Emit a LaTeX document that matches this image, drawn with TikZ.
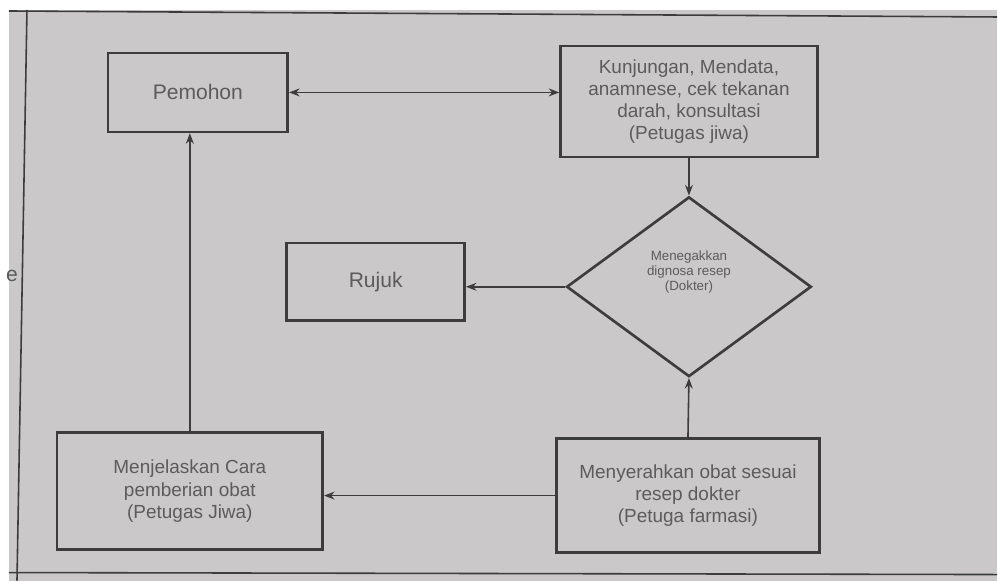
\documentclass[tikz,border=0pt]{standalone}
\usepackage{fontspec}
\setmainfont{Liberation Sans}
\usetikzlibrary{shapes.geometric,arrows.meta}
\definecolor{paper}{RGB}{202,200,200}
\definecolor{ink}{RGB}{60,60,60}
\definecolor{print}{RGB}{92,92,92}

\begin{document}
\begin{tikzpicture}[x=0.02cm,y=-0.02cm]
\tikzstyle{every node}+=[inner sep=0pt, text=print]
\tikzstyle{box}=[draw=ink, line width=1.5pt, rectangle, align=center, font=\fontsize{10.8}{12.6}\selectfont]
\tikzstyle{flow}=[draw=ink, line width=0.9pt, -{Stealth[length=6pt,width=4.5pt]}]
% kertas dan bingkai
\fill [white] (0,0) rectangle (998,581);
\fill [paper] (9,10) rectangle (998,581);
\draw [ink, line width=0.9pt] (9,11) -- (998,17);
\draw [ink, line width=0.9pt] (27,10) -- (17,581);
\draw [ink, line width=0.9pt] (9,573) -- (998,575);
\node (potong) at (12,276) {\fontsize{12}{14}\selectfont e};
% langkah
\node [box, minimum width=3.6cm, minimum height=1.58cm] (pemohon) at (198,92.5) {\fontsize{12}{14}\selectfont Pemohon};
\node [box, minimum width=5.14cm, minimum height=2.22cm] (kunjungan) at (689.5,101.5) {Kunjungan, Mendata,\\anamnese, cek tekanan\\darah, konsultasi\\(Petugas jiwa)};
\node [draw=ink, line width=1.5pt, diamond, minimum width=4.9cm, minimum height=3.6cm] (diagnosa) at (689.5,287) {};
\node [align=center, font=\fontsize{7.6}{8.6}\selectfont] (diagnosa-teks) at (689.5,272.5) {Menegakkan\\dignosa resep\\(Dokter)};
\node [box, minimum width=3.56cm, minimum height=1.56cm] (rujuk) at (376,282) {\fontsize{12}{14}\selectfont Rujuk};
\node [box, minimum width=5.32cm, minimum height=2.34cm] (jelas) at (190,491.5) {Menjelaskan Cara\\pemberian obat\\(Petugas Jiwa)};
\node [box, minimum width=5.26cm, minimum height=2.28cm] (serah) at (688.5,496) {Menyerahkan obat sesuai\\resep dokter\\(Petuga farmasi)};
% panah
\draw [flow, {Stealth[length=6pt,width=4.5pt]}-{Stealth[length=6pt,width=4.5pt]}] (pemohon.east) -- (pemohon.east -| kunjungan.west);
\draw [flow] (kunjungan.south) -- (diagnosa.north);
\draw [flow] (diagnosa.west) -- (diagnosa.west -| rujuk.east);
\draw [flow] (serah.north) -- (diagnosa.south);
\draw [flow] (serah.west) -- (serah.west -| jelas.east);
\draw [flow] (jelas.north) -- (jelas.north |- pemohon.south);
\end{tikzpicture}
\end{document}
